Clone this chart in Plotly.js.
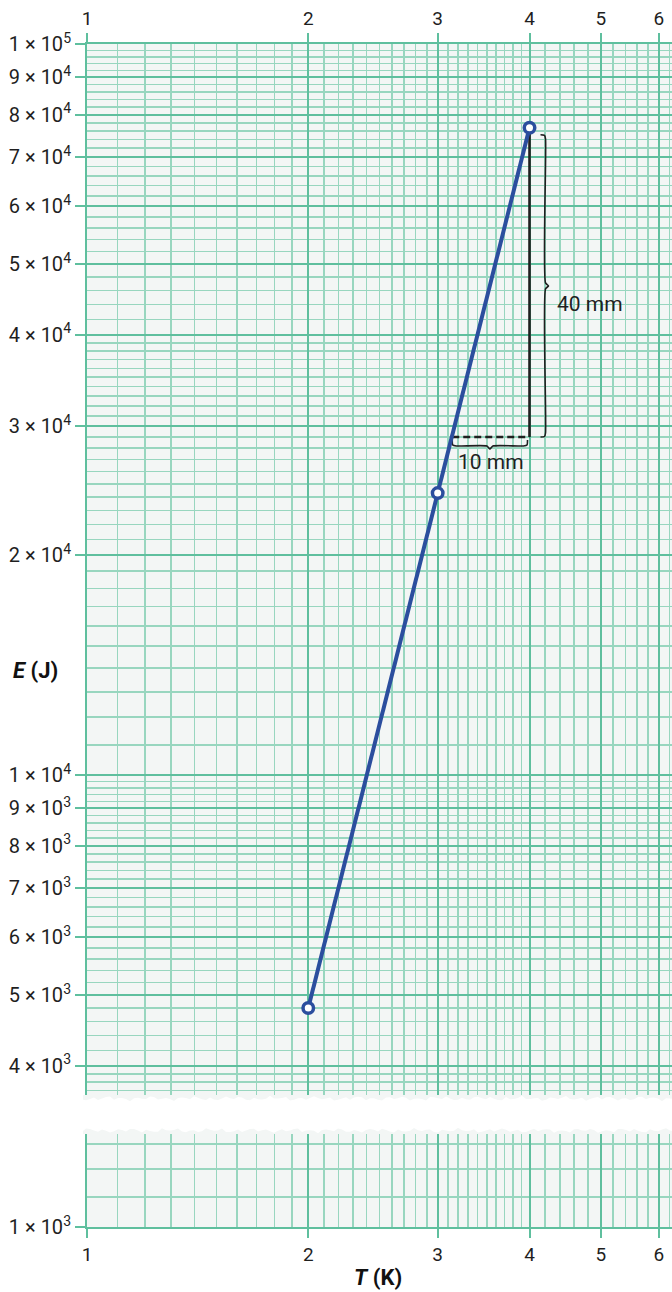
<!DOCTYPE html>
<html>
<head>
<meta charset="utf-8">
<script src="https://cdn.plot.ly/plotly-3.0.1.min.js"></script>
<style>html,body{margin:0;padding:0;background:#fff;}</style>
</head>
<body>
<div id="chart" style="width:672px;height:1292px;"></div>
<script>
// Energy E against temperature T, plotted on log–log graph paper
const temperatureK = [2, 3, 4];
const energyJ = [4800, 24300, 76800];

// Slope triangle between the two upper points
const riseT = [4, 4];
const riseE = [76800, 29000];
const runT = [3.14, 4];
const runE = [29000, 29000];
const riseLabel = '40 mm';
const runLabel = '10 mm';

// Axis ticks
const xTickVals = [1, 2, 3, 4, 5, 6];
const xTickText = ['1', '2', '3', '4', '5', '6'];
const yTickVals = [4000, 5000, 6000, 7000, 8000, 9000,
                   10000, 20000, 30000, 40000, 50000, 60000, 70000, 80000, 90000, 100000];
const yTickText = ['4 × 10<sup>3</sup>', '5 × 10<sup>3</sup>', '6 × 10<sup>3</sup>',
                   '7 × 10<sup>3</sup>', '8 × 10<sup>3</sup>', '9 × 10<sup>3</sup>',
                   '1 × 10<sup>4</sup>', '2 × 10<sup>4</sup>', '3 × 10<sup>4</sup>',
                   '4 × 10<sup>4</sup>', '5 × 10<sup>4</sup>', '6 × 10<sup>4</sup>',
                   '7 × 10<sup>4</sup>', '8 × 10<sup>4</sup>', '9 × 10<sup>4</sup>',
                   '1 × 10<sup>5</sup>'];
const yLowTickVals = [1000];
const yLowTickText = ['1 × 10<sup>3</sup>'];
const xTitle = '<b><i>T</i> (K)</b>';
const yTitle = '<b><i>E</i> (J)</b>';

// Colours
const lineBlue = '#2b4e9e';
const gridMajor = '#5fbf9e';
const gridMinor = '#98d6bf';
const paperBg = '#f3f6f5';
const ink = '#1f1f1f';

// Page geometry (pixels)
const W = 672, H = 1292;
const M = {l: 87, r: 0, t: 44, b: 65};
const plotW = W - M.l - M.r, plotH = H - M.t - M.b;
const pxPerDecadeX = 735, pxPerDecadeY = 731;
const mainBottomPx = 1101;   // lower edge of the upper sheet
const lowTopPx = 1130;       // upper edge of the lower sheet
const bottomPx = H - M.b;

const xRange = [0, plotW / pxPerDecadeX];
const yMainRange = [5 - (mainBottomPx - M.t) / pxPerDecadeY, 5];
const yLowRange = [3, 3 + (bottomPx - lowTopPx) / pxPerDecadeY];
const yMainDomain = [(bottomPx - mainBottomPx) / plotH, 1];
const yLowDomain = [0, (bottomPx - lowTopPx) / plotH];

// Graph-paper rulings: tenths from 1 to 4, fifths from 4 to 10 in each decade
function rulings(lo, hi) {
  const out = [];
  for (let d = Math.floor(Math.log10(lo)) - 1; d <= Math.ceil(Math.log10(hi)); d++) {
    const p = Math.pow(10, d);
    for (let m = 11; m < 40; m++) if (m % 10) out.push(m * p / 10);
    for (let m = 42; m < 100; m += 2) if (m % 10) out.push(m * p / 10);
  }
  return out.filter(v => v >= lo && v <= hi);
}
const xMinor = rulings(1, Math.pow(10, xRange[1]));
const yMainMinor = rulings(Math.pow(10, yMainRange[0]), 1e5);
const yLowMinor = rulings(1000, Math.pow(10, yLowRange[1]));

// pixel offsets on the log scales
const shiftT = (t, dx) => t * Math.pow(10, dx / pxPerDecadeX);
const shiftE = (e, dy) => e * Math.pow(10, -dy / pxPerDecadeY);
const px2paperX = px => (px - M.l) / plotW;
const px2paperY = py => (bottomPx - py) / plotH;

// Curly brace running down the right of the rise
function riseBrace() {
  const t = shiftT(riseT[0], 16);
  const top = shiftE(riseE[0], 7), bot = riseE[1];
  const mid = Math.sqrt(top * bot);
  const xs = [shiftT(t, -5), shiftT(t, -1), t, t, shiftT(t, 3), t, t, shiftT(t, -1), shiftT(t, -5)];
  const ys = [top, shiftE(top, 0.5), shiftE(top, 4), shiftE(mid, -3), mid, shiftE(mid, 3),
              shiftE(bot, -4), shiftE(bot, -0.5), bot];
  return {xs, ys};
}
// Curly brace under the run
function runBrace() {
  const e = shiftE(runE[0], 9);
  const l = runT[0], r = shiftT(runT[1], -2);
  const mid = Math.sqrt(l * r);
  const xs = [l, shiftT(l, 0.5), shiftT(l, 4), shiftT(mid, -3), mid, shiftT(mid, 3),
              shiftT(r, -4), shiftT(r, -0.5), r];
  const ys = [shiftE(e, -6), shiftE(e, -1), e, e, shiftE(e, 3), e, e, shiftE(e, -1), shiftE(e, -6)];
  return {xs, ys};
}
const rb = riseBrace(), hb = runBrace();

const traces = [
  {x: rb.xs, y: rb.ys, xaxis: 'x', yaxis: 'y', mode: 'lines',
   line: {color: ink, width: 1.6, shape: 'spline', smoothing: 0.6}, hoverinfo: 'skip'},
  {x: hb.xs, y: hb.ys, xaxis: 'x', yaxis: 'y', mode: 'lines',
   line: {color: ink, width: 1.6, shape: 'spline', smoothing: 0.6}, hoverinfo: 'skip'},
  {x: runT, y: runE, xaxis: 'x', yaxis: 'y', mode: 'lines',
   line: {color: ink, width: 2.4, dash: '7px,4px'}, hoverinfo: 'skip'},
  {x: riseT, y: riseE, xaxis: 'x', yaxis: 'y', mode: 'lines',
   line: {color: ink, width: 2.6}, hoverinfo: 'skip'},
  {x: temperatureK, y: energyJ, xaxis: 'x', yaxis: 'y', mode: 'lines+markers',
   line: {color: lineBlue, width: 4},
   marker: {symbol: 'circle', size: 10.5, color: '#ffffff', line: {color: lineBlue, width: 3.5}},
   hoverinfo: 'skip'},
  // carriers for the lower sheet and the top scale
  {x: [2], y: [1100], xaxis: 'x', yaxis: 'y2', mode: 'markers', marker: {opacity: 0}, hoverinfo: 'skip'},
  {x: [2], y: [20000], xaxis: 'x2', yaxis: 'y', mode: 'markers', marker: {opacity: 0}, hoverinfo: 'skip'}
];

const yTickFont = {family: 'Roboto, sans-serif', size: 20, color: ink};
const xTickFont = {family: 'Roboto, sans-serif', size: 19, color: ink};
const gridCommon = {
  showgrid: true, gridcolor: gridMajor, gridwidth: 2,
  zeroline: false, fixedrange: true,
  ticks: 'outside', tickcolor: gridMajor, tickwidth: 2,
  showline: true, linecolor: gridMajor, linewidth: 2,
  tickmode: 'array'
};

// Torn edges between the two sheets
function tornEdge(baseY, amp, phase) {
  const pts = [];
  for (let px = 82, i = 0; px <= 676; px += 4, i++) {
    const j = amp * (0.5 * Math.sin(i * 1.7 + phase) + 0.3 * Math.sin(i * 0.61 + 2 * phase) +
                     0.2 * Math.sin(i * 3.3 + phase));
    pts.push([px, baseY + j]);
  }
  return pts;
}
function pathFrom(pts, closeY, leftX, rightX) {
  let d = 'M ' + px2paperX(leftX) + ',' + px2paperY(closeY);
  pts.forEach(p => { d += ' L ' + px2paperX(p[0]) + ',' + px2paperY(p[1]); });
  d += ' L ' + px2paperX(rightX) + ',' + px2paperY(closeY) + ' Z';
  return d;
}
const upperEdge = tornEdge(1098.5, 2.8, 0.3);
const lowerEdge = tornEdge(1130.5, 2.8, 1.9);

const shapes = [
  {type: 'rect', xref: 'paper', yref: 'paper', layer: 'above',
   x0: px2paperX(83), x1: px2paperX(676), y0: px2paperY(1095), y1: px2paperY(1102),
   fillcolor: paperBg, line: {width: 0}},
  {type: 'path', xref: 'paper', yref: 'paper', layer: 'above',
   path: pathFrom(upperEdge, 1104, 82, 676), fillcolor: '#ffffff', line: {width: 0}},
  {type: 'rect', xref: 'paper', yref: 'paper', layer: 'above',
   x0: px2paperX(83), x1: px2paperX(676), y0: px2paperY(1128), y1: px2paperY(1134),
   fillcolor: paperBg, line: {width: 0}},
  {type: 'path', xref: 'paper', yref: 'paper', layer: 'above',
   path: pathFrom(lowerEdge, 1126, 82, 676), fillcolor: '#ffffff', line: {width: 0}}
];

const annFont = {family: 'Roboto, sans-serif', size: 21, color: ink};
const titleFont = {family: 'Roboto, sans-serif', size: 22, color: '#111'};
const annotations = [
  {xref: 'x', yref: 'y', x: Math.log10(shiftT(riseT[0], 25)),
   y: Math.log10(shiftE(Math.sqrt(shiftE(riseE[0], 7) * riseE[1]), 18)),
   text: riseLabel, showarrow: false, xanchor: 'left', yanchor: 'middle', font: annFont},
  {xref: 'x', yref: 'y', x: Math.log10(Math.sqrt(runT[0] * runT[1])),
   y: Math.log10(shiftE(runE[0], 25)),
   text: runLabel, showarrow: false, xanchor: 'center', yanchor: 'middle', font: annFont},
  {xref: 'paper', yref: 'paper', x: px2paperX(35), y: px2paperY(670),
   text: yTitle, showarrow: false, xanchor: 'center', yanchor: 'middle', font: titleFont},
  {xref: 'paper', yref: 'paper', x: px2paperX(378), y: px2paperY(1277),
   text: xTitle, showarrow: false, xanchor: 'center', yanchor: 'middle', font: titleFont}
];

const layout = {
  width: W, height: H,
  margin: {l: M.l, r: M.r, t: M.t, b: M.b, pad: 0},
  paper_bgcolor: '#ffffff', plot_bgcolor: paperBg,
  showlegend: false,
  font: {family: 'Roboto, sans-serif', size: 19, color: ink},
  xaxis: Object.assign({}, gridCommon, {
    type: 'log', range: xRange, anchor: 'y2', side: 'bottom',
    tickvals: xTickVals, ticktext: xTickText, ticklen: 9, tickfont: xTickFont,
    minor: {tickmode: 'array', tickvals: xMinor, showgrid: true,
            gridcolor: gridMinor, gridwidth: 1.6, ticks: ''}
  }),
  xaxis2: Object.assign({}, gridCommon, {
    type: 'log', range: xRange, anchor: 'y', side: 'top', overlaying: 'x',
    tickvals: xTickVals, ticktext: xTickText, ticklen: 9, tickfont: xTickFont, showgrid: false
  }),
  yaxis: Object.assign({}, gridCommon, {
    type: 'log', range: yMainRange, domain: yMainDomain, anchor: 'x',
    tickvals: yTickVals, ticktext: yTickText, ticklen: 10, tickfont: yTickFont,
    minor: {tickmode: 'array', tickvals: yMainMinor, showgrid: true,
            gridcolor: gridMinor, gridwidth: 1.6, ticks: ''}
  }),
  yaxis2: Object.assign({}, gridCommon, {
    type: 'log', range: yLowRange, domain: yLowDomain, anchor: 'x',
    tickvals: yLowTickVals, ticktext: yLowTickText, ticklen: 10, tickfont: yTickFont,
    minor: {tickmode: 'array', tickvals: yLowMinor, showgrid: true,
            gridcolor: gridMinor, gridwidth: 1.6, ticks: ''}
  }),
  shapes: shapes,
  annotations: annotations
};

Plotly.newPlot('chart', traces, layout, {staticPlot: true, displayModeBar: false});
</script>
</body>
</html>
